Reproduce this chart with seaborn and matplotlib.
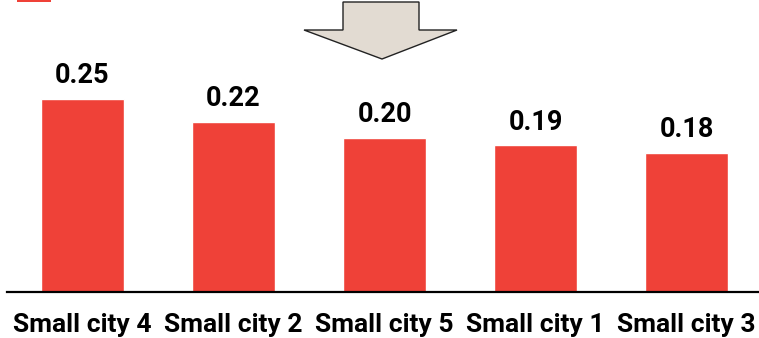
import matplotlib
matplotlib.use("Agg")
import matplotlib.pyplot as plt
from matplotlib.patches import Polygon, Rectangle
import seaborn as sns
import pandas as pd

cities = ["Small city 4", "Small city 2", "Small city 5", "Small city 1", "Small city 3"]
values = [0.25, 0.22, 0.20, 0.19, 0.18]
value_labels = ["0.25", "0.22", "0.20", "0.19", "0.18"]
legend_label = "Fatality rate by city (p)"

BAR_COLOR = "#EF4138"
FONT = ["Roboto", "DejaVu Sans"]

sns.set_theme(style="white")
plt.rcParams["font.family"] = FONT

df = pd.DataFrame({"city": cities, "value": values})

W, H = 759, 338
fig = plt.figure(figsize=(W / 100, H / 100), dpi=100)
ax = fig.add_axes([7 / W, (H - 292) / H, (W - 7) / W, 292 / H])

sns.barplot(data=df, x="city", y="value", color=BAR_COLOR, saturation=1,
            width=0.55, ax=ax)

ax.set_xlim(-0.5, 4.48)
ax.set_ylim(0, 292 / 772)
for i, (v, lab) in enumerate(zip(values, value_labels)):
    ax.annotate(lab, (i, v), xytext=(0, 7), textcoords="offset points",
                ha="center", va="bottom", fontsize=19.5, fontweight="bold",
                color="black")

ax.set_xlabel("")
ax.set_ylabel("")
ax.set_yticks([])
ax.tick_params(axis="x", length=0, pad=15, labelsize=19)
for t in ax.get_xticklabels():
    t.set_fontweight("bold")
    t.set_color("black")
for s in ["top", "left", "right"]:
    ax.spines[s].set_visible(False)
ax.spines["bottom"].set_color("black")
ax.spines["bottom"].set_linewidth(1.6)

# Legend swatch and label, mostly above the top edge
fig.patches.append(Rectangle((17 / W, 1 - 2 / H), 34 / W, 20 / H,
                             transform=fig.transFigure, facecolor=BAR_COLOR,
                             edgecolor="none", clip_on=False))
fig.text(60 / W, 1 + 3 / H, legend_label, fontsize=20, va="bottom",
         ha="left", color="#222222")

# Downward arrow
pts = [(343, 2), (419, 2), (419, 30), (457, 30), (382, 59), (304, 30), (343, 30)]
fig.patches.append(Polygon([(x / W, 1 - y / H) for x, y in pts], closed=True,
                           transform=fig.transFigure, facecolor="#E2DBD2",
                           edgecolor="#222222", linewidth=1.0))

fig.savefig("out.png", dpi=100)
